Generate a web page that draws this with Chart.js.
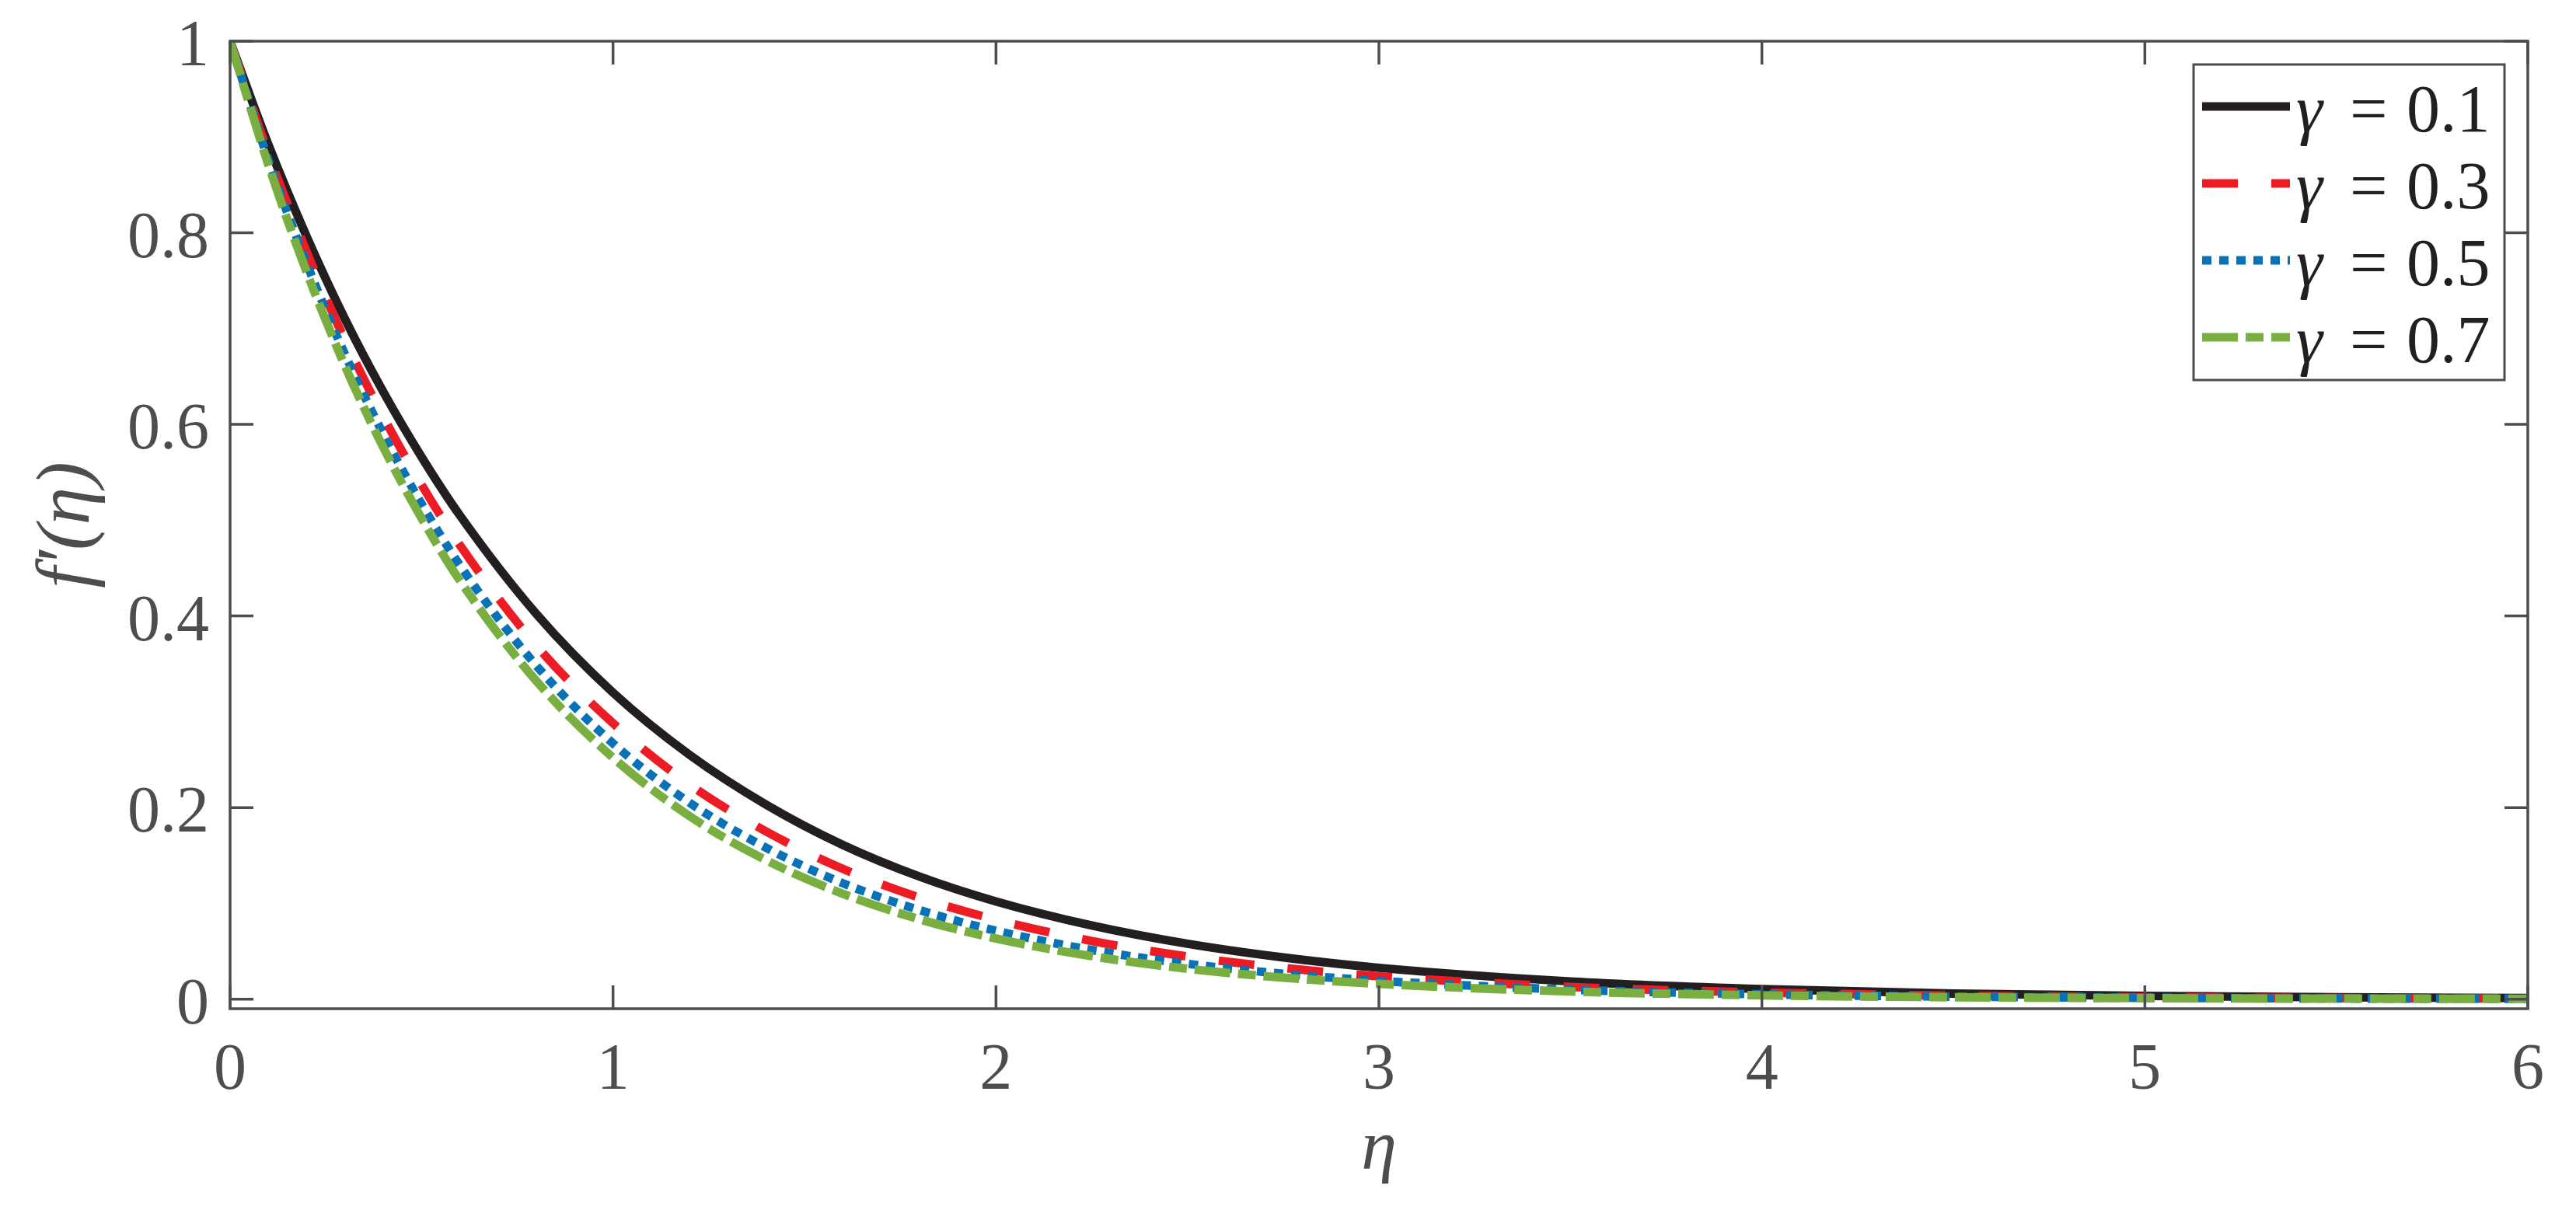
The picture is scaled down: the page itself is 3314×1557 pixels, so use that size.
<!DOCTYPE html>
<html>
<head>
<meta charset="utf-8">
<title>f'(eta) vs eta</title>
<script src="https://cdn.jsdelivr.net/npm/chart.js@4.4.1/dist/chart.umd.min.js"></script>
<style>
    html, body { margin: 0; padding: 0; background: #fff; }
    #wrap { width: 3314px; height: 1557px; }
</style>
</head>
<body>
<div id="wrap"><canvas id="chart" width="3314" height="1557"></canvas></div>
<script>
// values
const eta = [0, 0.1, 0.2, 0.3, 0.4, 0.5, 0.6, 0.8, 1.0, 1.2, 1.4, 1.6, 1.8, 2.0, 2.25, 2.5, 2.75, 3.0, 3.5, 4.0, 4.5, 5.0, 5.5, 6.0];
const gamma01 = [1, 0.892, 0.796, 0.710, 0.634, 0.566, 0.505, 0.402, 0.320, 0.255, 0.203, 0.161, 0.128, 0.102, 0.0769, 0.0578, 0.0435, 0.0327, 0.0185, 0.0105, 0.0059, 0.0033, 0.0019, 0.0011];
const gamma03 = [1, 0.883, 0.780, 0.688, 0.608, 0.537, 0.474, 0.369, 0.288, 0.224, 0.175, 0.136, 0.106, 0.083, 0.0607, 0.0445, 0.0326, 0.0239, 0.0128, 0.0069, 0.0037, 0.0020, 0.0011, 0.0006];
const gamma05 = [1, 0.876, 0.768, 0.673, 0.590, 0.517, 0.453, 0.348, 0.267, 0.205, 0.158, 0.121, 0.093, 0.0714, 0.0513, 0.0369, 0.0265, 0.0191, 0.0099, 0.0051, 0.0026, 0.0014, 0.0007, 0.0004];
const gamma07 = [1, 0.871, 0.759, 0.661, 0.576, 0.502, 0.437, 0.332, 0.252, 0.191, 0.145, 0.110, 0.0834, 0.0633, 0.0448, 0.0317, 0.0225, 0.0159, 0.0080, 0.0040, 0.0020, 0.0010, 0.0005, 0.0003];
const gammaLabels = ['0.1', '0.3', '0.5', '0.7'];
const xTicks = [0, 1, 2, 3, 4, 5, 6];
const yTicks = [0, 0.2, 0.4, 0.6, 0.8, 1];

const axisColor = '#4d4d4f';
const serif = '"Liberation Serif", "Times New Roman", serif';

function toPoints(ys) {
    return eta.map((x, i) => ({ x: x, y: ys[i] }));
}

const series = [
    { ys: gamma01, color: '#231f20', dash: [], order: 4 },
    { ys: gamma03, color: '#ed1c24', dash: [46, 43], order: 3 },
    { ys: gamma05, color: '#0872b9', dash: [12, 10], order: 2 },
    { ys: gamma07, color: '#79ae41', dash: [46, 10, 23, 10], order: 1 }
];

const datasets = series.map((s, i) => ({
    label: 'γ = ' + gammaLabels[i],
    data: toPoints(s.ys),
    borderColor: s.color,
    borderWidth: 11,
    borderDash: s.dash,
    borderCapStyle: 'butt',
    pointRadius: 0,
    cubicInterpolationMode: 'monotone',
    fill: false,
    order: s.order
}));

// box round the plot with inward ticks on all four sides
const frame = {
    id: 'frame',
    afterDatasetsDraw(chart) {
        const { ctx, chartArea: a, scales: { x, y } } = chart;
        const tl = 30;
        ctx.save();
        ctx.strokeStyle = axisColor;
        ctx.lineWidth = 3.5;
        ctx.strokeRect(a.left, a.top, a.right - a.left, a.bottom - a.top);
        ctx.beginPath();
        xTicks.forEach(v => {
            const px = x.getPixelForValue(v);
            ctx.moveTo(px, a.bottom); ctx.lineTo(px, a.bottom - tl);
            ctx.moveTo(px, a.top); ctx.lineTo(px, a.top + tl);
        });
        yTicks.forEach(v => {
            const py = y.getPixelForValue(v);
            ctx.moveTo(a.left, py); ctx.lineTo(a.left + tl, py);
            ctx.moveTo(a.right, py); ctx.lineTo(a.right - tl, py);
        });
        ctx.stroke();
        ctx.restore();
    }
};

// legend in the upper right corner, dashed samples taken from the datasets
const legendBox = {
    id: 'legendBox',
    afterDraw(chart) {
        const { ctx, chartArea: a } = chart;
        const boxL = a.right - 430, boxT = a.top + 30, boxW = 400, boxH = 406;
        ctx.save();
        ctx.fillStyle = '#fff';
        ctx.fillRect(boxL, boxT, boxW, boxH);
        ctx.strokeStyle = axisColor;
        ctx.lineWidth = 3;
        ctx.strokeRect(boxL, boxT, boxW, boxH);

        chart.data.datasets.forEach((ds, i) => {
            const cy = boxT + 54 + i * 99;
            ctx.setLineDash(ds.borderDash);
            ctx.lineCap = 'butt';
            ctx.strokeStyle = ds.borderColor;
            ctx.lineWidth = ds.borderWidth;
            ctx.beginPath();
            ctx.moveTo(boxL + 11, cy);
            ctx.lineTo(boxL + 124, cy);
            ctx.stroke();
            ctx.setLineDash([]);

            const by = cy + 32;
            ctx.fillStyle = '#231f20';
            ctx.textBaseline = 'alphabetic';
            ctx.textAlign = 'left';
            ctx.font = 'italic 86px ' + serif;
            ctx.fillText('γ', boxL + 132, by);
            ctx.font = '86px ' + serif;
            ctx.fillText('=', boxL + 201, by);
            ctx.fillText(gammaLabels[i], boxL + 274, by);
        });
        ctx.restore();
    }
};

new Chart(document.getElementById('chart'), {
    type: 'line',
    data: { datasets: datasets },
    options: {
        responsive: false,
        animation: false,
        devicePixelRatio: 1,
        layout: { padding: { top: 53, right: 62, left: 0, bottom: 0 } },
        plugins: {
            legend: { display: false },
            tooltip: { enabled: false }
        },
        scales: {
            x: {
                type: 'linear',
                min: 0,
                max: 6,
                afterBuildTicks: s => { s.ticks = xTicks.map(v => ({ value: v })); },
                afterFit: s => {
                    s.height = 259;
                    s.paddingLeft = 0;
                    s.paddingRight = 0;
                },
                grid: { display: false, drawTicks: false },
                border: { display: false },
                ticks: {
                    color: axisColor,
                    font: { family: serif, size: 84, lineHeight: 1 },
                    padding: 39,
                    maxRotation: 0,
                    autoSkip: false,
                    callback: v => String(v)
                },
                title: {
                    display: true,
                    text: 'η',
                    color: axisColor,
                    font: { family: serif, size: 92, style: 'italic', lineHeight: 1 },
                    padding: { top: 0, bottom: 31 }
                }
            },
            y: {
                type: 'linear',
                min: -0.01,
                max: 1,
                afterBuildTicks: s => { s.ticks = yTicks.map(v => ({ value: v })); },
                afterFit: s => {
                    s.width = 296;
                    s.paddingTop = 0;
                    s.paddingBottom = 0;
                },
                grid: { display: false, drawTicks: false },
                border: { display: false },
                ticks: {
                    color: axisColor,
                    font: { family: serif, size: 84, lineHeight: 1 },
                    padding: 27,
                    labelOffset: 9,
                    autoSkip: false,
                    callback: v => String(v)
                },
                title: {
                    display: true,
                    text: 'f′(η)',
                    color: axisColor,
                    font: { family: serif, size: 98, style: 'italic', lineHeight: 1 },
                    padding: { top: 39, bottom: 0 }
                }
            }
        }
    },
    plugins: [frame, legendBox]
});
</script>
</body>
</html>
